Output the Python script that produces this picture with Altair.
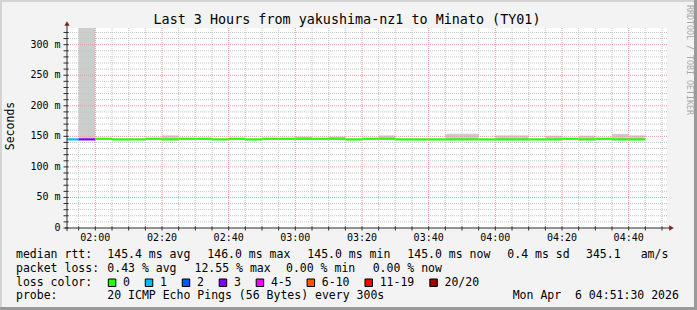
import altair as alt
import pandas as pd

# ------------------------------------------------------------------ data
step_start = ["01:50", "01:55", "02:00", "02:05", "02:10", "02:15", "02:20", "02:25",
              "02:30", "02:35", "02:40", "02:45", "02:50", "02:55", "03:00", "03:05",
              "03:10", "03:15", "03:20", "03:25", "03:30", "03:35", "03:40", "03:45",
              "03:50", "03:55", "04:00", "04:05", "04:10", "04:15", "04:20", "04:25",
              "04:30", "04:35", "04:40"]
median_ms = [145.0, 145.0, 146.0, 145.0, 145.0, 146.0, 145.0, 146.0,
             146.0, 145.0, 146.0, 145.0, 146.0, 146.0, 146.0, 146.0,
             146.0, 145.0, 146.0, 146.0, 145.0, 145.0, 145.0, 145.0,
             145.0, 145.0, 145.0, 145.0, 145.0, 145.0, 146.0, 145.0,
             146.0, 145.0, 145.0]
lost_pings = [1, 3, 0, 0, 0, 0, 0, 0,
              0, 0, 0, 0, 0, 0, 0, 0,
              0, 0, 0, 0, 0, 0, 0, 0,
              0, 0, 0, 0, 0, 0, 0, 0,
              0, 0, 0]
smoke_max_ms = [None, 330.0, None, None, None, None, 151.5, None,
                None, None, None, None, None, None, 149.5, None,
                149.5, None, None, 151.5, None, None, None, 154.3,
                154.3, None, 151.5, 151.5, None, 151.0, None, 151.0,
                None, 154.0, 151.5]

window = ("01:51:30", "04:51:30")
x_major_ticks = ["02:00", "02:20", "02:40", "03:00", "03:20", "03:40", "04:00", "04:20", "04:40"]
y_major_ticks = [0, 50, 100, 150, 200, 250, 300]
y_tick_labels = ["0\u00a0\u00a0", "50\u00a0m", "100\u00a0m", "150\u00a0m", "200\u00a0m", "250\u00a0m", "300\u00a0m"]
y_max = 327.3

loss_labels = ["0", "1", "2", "3", "4-5", "6-10", "11-19", "20/20"]
loss_colors = ["#26ff00", "#00b8ff", "#0059ff", "#7e00ff", "#ff00ff", "#ff5500", "#ff0000", "#a10000"]

title_text = "Last 3 Hours from yakushima-nz1 to Minato (TY01)"
y_title = "Seconds"
watermark = "RRDTOOL / TOBI OETIKER"
rtt_line = ["median rtt:", "145.4 ms avg", "146.0 ms max", "145.0 ms min",
            "145.0 ms now", "0.4 ms sd", "345.1", "am/s"]
loss_line = ["packet loss:", "0.43 % avg", "12.55 % max", "0.00 % min", "0.00 % now"]
color_line = "loss color:"
probe_line = ["probe:", "20 ICMP Echo Pings (56 Bytes) every 300s", "Mon Apr\u00a0\u00a06 04:51:30 2026"]

# ------------------------------------------------------------------ helpers
FONT = "DejaVu Sans Mono"
PL, PT = 67, 28          # plot-area offset inside the 697x310 image
W, H = 600, 200
STEP = 5


def mins(s):
    p = [int(v) for v in s.split(":")]
    return p[0] * 60 + p[1] + (p[2] / 60 if len(p) > 2 else 0)


def loss_class(n):
    if n <= 3:
        return str(n)
    if n <= 5:
        return "4-5"
    if n <= 10:
        return "6-10"
    if n <= 19:
        return "11-19"
    return "20/20"


df = pd.DataFrame({
    "t0": [mins(s) for s in step_start],
    "median": median_ms,
    "loss": [loss_class(n) for n in lost_pings],
    "smoke": smoke_max_ms,
})
df["t1"] = df["t0"] + STEP
smoke_df = df.dropna(subset=["smoke"])

xs = alt.Scale(domain=[mins(window[0]), mins(window[1])], nice=False, zero=False)
ys = alt.Scale(domain=[0, y_max], nice=False)

major_x = [mins(s) for s in x_major_ticks]
all_x = [v for v in range(int(mins(window[0])) + 1, int(mins(window[1])) + 1) if v % STEP == 0]
minor_x = [v for v in all_x if v not in major_x]
all_y = list(range(0, int(y_max), 10))
minor_y = [v for v in all_y if v % 50 != 0]

one = pd.DataFrame({"k": [0]})


def text(x, y, s, size=11.5, align="left", angle=0, color="black", baseline="alphabetic"):
    return alt.Chart(pd.DataFrame({"s": [s]})).mark_text(
        font=FONT, fontSize=size, align=align, angle=angle, color=color, baseline=baseline
    ).encode(x=alt.value(x - PL), y=alt.value(y - PT), text="s:N")


def rule(x, y, x2=None, y2=None, color="#333333", width=1):
    enc = {"x": alt.value(x - PL), "y": alt.value(y - PT)}
    if x2 is not None:
        enc["x2"] = alt.value(x2 - PL)
    if y2 is not None:
        enc["y2"] = alt.value(y2 - PT)
    return alt.Chart(one).mark_rule(color=color, strokeWidth=width).encode(**enc)


# ------------------------------------------------------------------ layers
smoke = alt.Chart(smoke_df).mark_rect(color="#cdcdcd", clip=True).encode(
    x=alt.X("t0:Q", scale=xs, axis=None), x2="t1:Q",
    y=alt.Y("median:Q", scale=ys, axis=None), y2="smoke:Q")

grid_x_minor = alt.Chart(pd.DataFrame({"t": minor_x})).mark_rule(
    color="#c4c4c4", strokeDash=[1, 1], strokeWidth=1).encode(
    x=alt.X("t:Q", scale=xs, axis=None))
grid_y_minor = alt.Chart(pd.DataFrame({"v": minor_y})).mark_rule(
    color="#c4c4c4", strokeDash=[1, 1], strokeWidth=1).encode(
    y=alt.Y("v:Q", scale=ys, axis=None))
grid_x_major = alt.Chart(pd.DataFrame({"t": major_x})).mark_rule(
    color="#e89a9a", strokeDash=[1, 1], strokeWidth=1).encode(
    x=alt.X("t:Q", scale=xs, axis=None))
grid_y_major = alt.Chart(pd.DataFrame({"v": y_major_ticks[1:]})).mark_rule(
    color="#e89a9a", strokeDash=[1, 1], strokeWidth=1).encode(
    y=alt.Y("v:Q", scale=ys, axis=None))

median_line = alt.Chart(df).mark_rule(strokeWidth=2.2, clip=True).encode(
    x=alt.X("t0:Q", scale=xs, axis=None), x2="t1:Q",
    y=alt.Y("median:Q", scale=ys, axis=None),
    color=alt.Color("loss:N", scale=alt.Scale(domain=loss_labels, range=loss_colors), legend=None))

# axis ticks and labels drawn through the shared scales
x_ticks = alt.Chart(pd.DataFrame({"t": all_x})).mark_rule(color="#2c2c2c", strokeWidth=1).encode(
    x=alt.X("t:Q", scale=xs, axis=None), y=alt.value(H - 1.5), y2=alt.value(H + 2.5))
x_labels = alt.Chart(pd.DataFrame({"t": major_x, "lab": x_major_ticks})).mark_text(
    font=FONT, fontSize=10, baseline="middle", align="center", color="black").encode(
    x=alt.X("t:Q", scale=xs, axis=None), y=alt.value(237.5 - PT), text="lab:N")
y_ticks = alt.Chart(pd.DataFrame({"v": all_y})).mark_rule(color="#2c2c2c", strokeWidth=1).encode(
    y=alt.Y("v:Q", scale=ys, axis=None), x=alt.value(-3.5), x2=alt.value(1.5))
y_labels = alt.Chart(pd.DataFrame({"v": y_major_ticks, "lab": y_tick_labels})).mark_text(
    font=FONT, fontSize=10, baseline="middle", align="right", color="black").encode(
    y=alt.Y("v:Q", scale=ys, axis=None), x=alt.value(60.5 - PL), text="lab:N")

layers = [
    # image frame shading
    rule(0, 1, x2=697, color="#d4d4d4", width=2),
    rule(1, 0, y2=310, color="#d4d4d4", width=2),
    rule(695.5, 0, y2=310, color="#9a9a9a", width=3),
    rule(0, 308.5, x2=697, color="#9a9a9a", width=3),
    smoke, grid_x_minor, grid_y_minor, grid_x_major, grid_y_major, median_line,
    x_ticks, y_ticks, x_labels, y_labels,
    # axis lines and arrows
    rule(65, PT + H, x2=670, color="#2c2c2c"),
    rule(PL, PT + H + 3, y2=24, color="#2c2c2c"),
    alt.Chart(one).mark_point(shape="triangle-up", filled=True, color="#7f1f1f", size=28, opacity=1).encode(
        x=alt.value(0), y=alt.value(-4.5)),
    alt.Chart(one).mark_point(shape="triangle-right", filled=True, color="#7f1f1f", size=28, opacity=1).encode(
        x=alt.value(604.5), y=alt.value(H)),
    # titles
    text(347, 24, title_text, size=13.4, align="center"),
    text(11, 126, y_title, size=11.5, align="center", angle=270, baseline="middle"),
    text(689, 5, watermark, size=8.3, align="left", angle=90, color="#a8a8a8", baseline="middle"),
]

# legend text lines
rtt_x = [16, 107.3, 207.3, 307.3, 407.3, 507.3, 586, 640.7]
for xpos, s in zip(rtt_x, rtt_line):
    layers.append(text(xpos, 258, s))
loss_x = [16, 107.3, 194.5, 286, 372.7]
for xpos, s in zip(loss_x, loss_line):
    layers.append(text(xpos, 271.7, s))
layers.append(text(16, 285.7, color_line))
probe_x = [16, 107.3, 512.7]
for xpos, s in zip(probe_x, probe_line):
    layers.append(text(xpos, 299.3, s))

# loss colour swatches, laid out like rrdtool's tab stops
CHAR = 6.97
sx = 108.3
for lab, col in zip(loss_labels, loss_colors):
    layers.append(alt.Chart(one).mark_rect(fill=col, stroke="black", strokeWidth=1).encode(
        x=alt.value(sx - PL), x2=alt.value(sx + 7.5 - PL),
        y=alt.value(279 - PT), y2=alt.value(286.5 - PT)))
    layers.append(text(sx + 14.7, 285.7, lab))
    sx += 30 + len(lab) * CHAR

chart = alt.layer(*layers).properties(
    width=W, height=H,
    padding={"left": PL, "top": PT, "right": 697 - PL - W, "bottom": 310 - PT - H},
    autosize="none",
    background="#f3f3f3",
).configure_view(stroke=None, fill="white")

chart.save("out.html", embed_options={"renderer": "svg", "actions": False})
